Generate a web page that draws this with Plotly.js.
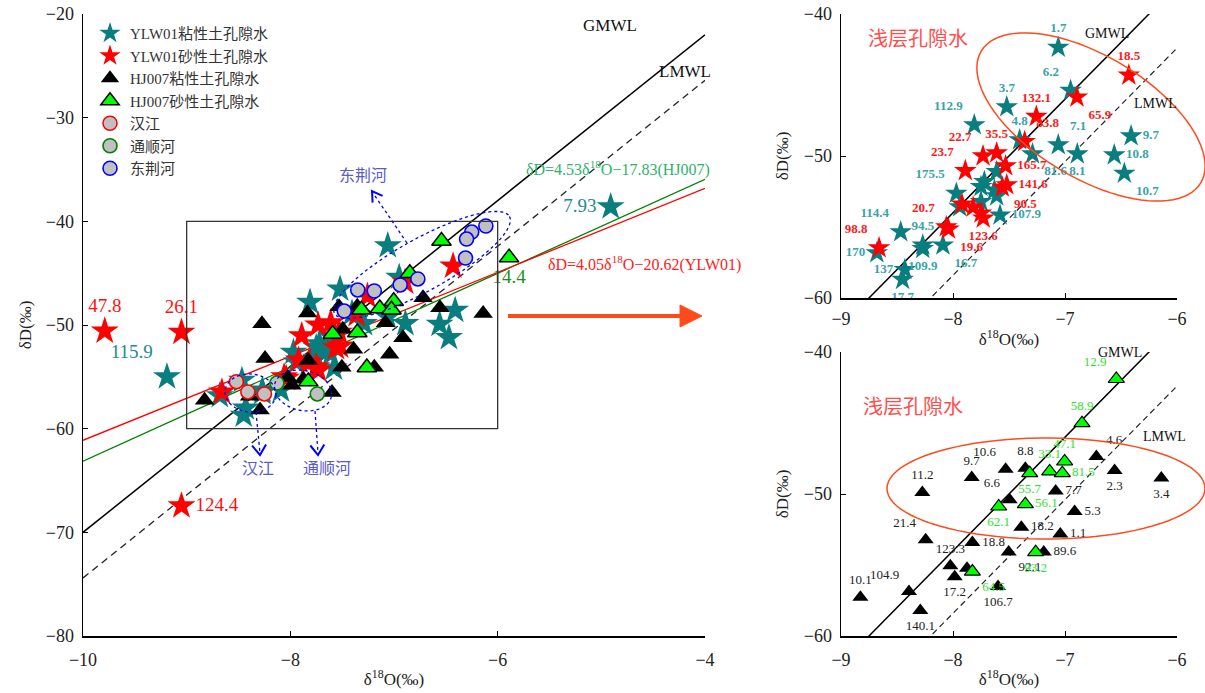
<!DOCTYPE html>
<html><head><meta charset="utf-8">
<script src="https://cdn.plot.ly/plotly-3.0.1.min.js"></script>
<style>body{margin:0;background:#fff}#c{width:1205px;height:693px}</style>
</head><body><div id="c"></div>
<script>
// ---------------- DATA ----------------
// YLW01 clay pore water (teal stars)
const ylwClayX = [-7.06,-6.95,-7.52,-7.81,-7.405,-7.06,-7.29,-6.89,-6.41,-6.56,-6.47,-7.61,-7.72,-7.75,-7.63,-7.61,-7.75,-7.97,-7.94,-7.58,-8.467,-8.27,-8.27,-8.09,-8.68,-8.43,-8.45,-9.19,-4.91];
const ylwClayY = [-42.35,-45.39,-46.54,-47.81,-48.87,-49.22,-49.86,-49.86,-48.59,-49.93,-51.22,-51.1,-51.81,-52.16,-52.4,-52.82,-53.22,-52.63,-53.58,-54.16,-55.34,-56.28,-56.52,-56.28,-56.82,-58.0,-58.7,-55.0,-38.6];
const ylwClayLab = ['1.7','6.2','3.7','112.9','4.8','7.1','81.6','8.1','9.7','10.8','10.7','','','','','','','175.5','','107.9','114.4','94.5','109.9','16.7','170','137','17.7','115.9','7.93'];
// YLW01 sandy pore water (red stars)
const ylwSandX = [-6.43,-6.893,-7.256,-7.36,-7.61,-7.732,-7.53,-7.89,-7.52,-7.56,-7.92,-7.82,-7.75,-7.73,-8.06,-8.04,-8.66,-9.79,-9.05,-9.05];
const ylwSandY = [-44.31,-45.86,-47.22,-48.99,-49.79,-50.0,-50.70,-51.04,-52.04,-52.19,-53.39,-53.6,-54.03,-54.38,-54.99,-55.15,-56.47,-50.58,-50.7,-67.45];
const ylwSandLab = ['18.5','65.9','132.1','83.8','35.5','22.7','165.7','23.7','141.6','90.5','','','','123.6','20.7','19.6','98.8','47.8','26.1','124.4'];
// HJ007 clay pore water (black triangles)
const hjClayX = [-8.827,-8.393,-8.292,-8.244,-8.274,-7.833,-7.530,-7.354,-7.494,-7.083,-6.720,-6.557,-6.140,-6.914,-7.390,-7.042,-7.827,-7.190,-7.503,-8.024,-7.875,-7.985,-7.598];
const hjClayY = [-57.27,-56.87,-58.21,-53.23,-49.89,-48.84,-48.25,-48.18,-50.41,-49.78,-47.36,-48.34,-48.88,-51.23,-52.34,-52.81,-53.42,-54.08,-54.08,-55.06,-55.23,-55.82,-56.52];
const hjClayLab = ['10.1','104.9','140.1','21.4','11.2','9.7','10.6','8.8','6.6','7.7','4.6','2.3','3.4','5.3','18.2','1.1','18.8','89.6','92.1','123.3','','17.2','106.7'];
// HJ007 sandy pore water (green triangles)
const hjSandX = [-6.542,-6.848,-7.003,-7.137,-7.024,-7.315,-7.354,-7.592,-7.262,-7.827,-5.89];
const hjSandY = [-41.90,-45.01,-47.71,-48.41,-48.53,-48.53,-50.72,-50.88,-54.10,-55.46,-43.5];
const hjSandLab = ['12.9','58.9','47.1','33.1','81.5','55.7','56.1','62.1','93.2','64.5','14.4'];
// Rivers
const hanX = [-8.52,-8.41,-8.25];
const hanY = [-55.47,-56.46,-56.65];
const tongX = [-8.13,-7.74];
const tongY = [-55.6,-56.65];
const dongX = [-6.114,-6.25,-6.30,-6.31,-6.77,-6.94,-7.19,-7.35,-7.48];
const dongY = [-40.45,-41.03,-41.71,-43.54,-45.56,-46.14,-46.72,-46.62,-48.65];
// Lines: [slope, intercept]
const GMWL = [8, 10];
const LMWL = [8, 5.6];
const fitHJ007 = [4.53, -17.83];
const fitYLW01 = [4.05, -20.62];
const lineX = [-10, -4];

// ---------------- STYLE / PLACEMENT ----------------
const ylwClayPos = ['top center','top left','top center','top left','top center','top right','bottom right','bottom center','middle right','middle right','bottom right','top center','top center','top center','top center','top center','top center','top left','top center','middle right','top left','top center','bottom center','bottom right','middle left','middle left','bottom center','top left','middle left'];
const ylwSandPos = ['top center','bottom right','top center','top right','top center','top left','middle right','top left','middle right','bottom right','top center','top center','top center','bottom center','top left','bottom right','top left','top center','top center','middle right'];
const hjClayPos = ['top center','top left','bottom center','top left','top center','top center','top left','top center','top left','middle right','top right','bottom center','bottom center','middle right','middle right','middle right','middle right','middle right','bottom right','top center','top center','bottom center','bottom center'];
const hjSandPos = ['top left','top center','top center','top center','middle right','bottom center','middle right','bottom center','bottom center','bottom right','bottom center'];

const W = 1205, H = 693;
const FONT = 'Liberation Serif, Times New Roman, Noto Sans CJK SC, serif';
const CJK = 'Liberation Serif, Noto Sans CJK SC, serif';
const P = (px, py) => [px / W, 1 - py / H];
const inBox = (x, y) => x >= -9 && x <= -6 && y >= -60 && y <= -40;
const lineY = c => lineX.map(x => c[0] * x + c[1]);

const TEAL = '#0a7e7e', RED = '#ff0000', GREEN = '#00ff00';

function mainText(xs, ys, labs) { return labs.map((l, i) => inBox(xs[i], ys[i]) ? '' : l); }
function boxText(xs, ys, labs) { return labs.map((l, i) => inBox(xs[i], ys[i]) ? l : ''); }
function boxX(xs, ys) { return xs.map((x, i) => inBox(x, ys[i]) ? x : null); }

const traces = [];
// main lines
traces.push({x: lineX, y: lineY(GMWL), mode: 'lines', line: {color: '#000', width: 1.5}, showlegend: false, hoverinfo: 'skip'});
traces.push({x: lineX, y: lineY(LMWL), mode: 'lines', line: {color: '#222', width: 1.3, dash: '7px,5px'}, showlegend: false, hoverinfo: 'skip'});
traces.push({x: lineX, y: lineY(fitHJ007), mode: 'lines', line: {color: '#008000', width: 1.3}, showlegend: false, hoverinfo: 'skip'});
traces.push({x: lineX, y: lineY(fitYLW01), mode: 'lines', line: {color: '#ff0000', width: 1.3}, showlegend: false, hoverinfo: 'skip'});

// main markers
const mainFont = (c) => ({family: FONT, size: 19, color: c});
traces.push({name: 'YLW01粘性土孔隙水', legendgroup: 'a', x: ylwClayX, y: ylwClayY, mode: 'markers+text',
  text: mainText(ylwClayX, ylwClayY, ylwClayLab), textposition: ylwClayPos, textfont: mainFont('#1c8c8c'),
  marker: {symbol: 'star', size: 21, color: TEAL, line: {width: 0}}});
traces.push({name: 'YLW01砂性土孔隙水', legendgroup: 'b', x: ylwSandX, y: ylwSandY, mode: 'markers+text',
  text: mainText(ylwSandX, ylwSandY, ylwSandLab), textposition: ylwSandPos, textfont: mainFont('#ff1010'),
  marker: {symbol: 'star', size: 21, color: RED, line: {width: 0}}});
traces.push({name: 'HJ007粘性土孔隙水', legendgroup: 'c', x: hjClayX, y: hjClayY, mode: 'markers',
  marker: {symbol: 'triangle-up', size: 17, color: '#000', line: {width: 0}}});
traces.push({name: 'HJ007砂性土孔隙水', legendgroup: 'd', x: hjSandX, y: hjSandY, mode: 'markers+text',
  text: mainText(hjSandX, hjSandY, hjSandLab), textposition: hjSandPos, textfont: mainFont('#1e901e'),
  marker: {symbol: 'triangle-up', size: 17, color: GREEN, line: {width: 1.5, color: '#000'}}});
traces.push({name: '汉江', legendgroup: 'e', x: hanX, y: hanY, mode: 'markers',
  marker: {symbol: 'circle', size: 14, color: '#c0c0c0', line: {width: 1.6, color: '#ff0000'}}});
traces.push({name: '通顺河', legendgroup: 'f', x: tongX, y: tongY, mode: 'markers',
  marker: {symbol: 'circle', size: 14, color: '#c0c0c0', line: {width: 1.6, color: '#008000'}}});
traces.push({name: '东荆河', legendgroup: 'g', x: dongX, y: dongY, mode: 'markers',
  marker: {symbol: 'circle', size: 14, color: '#c0c0c0', line: {width: 1.6, color: '#0000ff'}}});

// right plots (only the points inside the framed box)
['x2','x3'].forEach((xa, k) => {
  const ya = k === 0 ? 'y2' : 'y3';
  traces.push({x: lineX, y: lineY(GMWL), xaxis: xa, yaxis: ya, mode: 'lines', line: {color: '#000', width: 1.5}, showlegend: false, hoverinfo: 'skip'});
  traces.push({x: lineX, y: lineY(LMWL), xaxis: xa, yaxis: ya, mode: 'lines', line: {color: '#222', width: 1.2, dash: '6px,4px'}, showlegend: false, hoverinfo: 'skip'});
});
const smallFont = (c, bold) => ({family: FONT, size: 13, color: c, weight: bold ? 'bold' : 'normal'});
traces.push({x: boxX(ylwClayX, ylwClayY), y: ylwClayY, xaxis: 'x2', yaxis: 'y2', mode: 'markers+text', text: boxText(ylwClayX, ylwClayY, ylwClayLab), textposition: ylwClayPos,
  textfont: smallFont('#3aa3a8', true), marker: {symbol: 'star', size: 17, color: TEAL}, showlegend: false});
traces.push({x: boxX(ylwSandX, ylwSandY), y: ylwSandY, xaxis: 'x2', yaxis: 'y2', mode: 'markers+text', text: boxText(ylwSandX, ylwSandY, ylwSandLab), textposition: ylwSandPos,
  textfont: smallFont('#ff1a1a', true), marker: {symbol: 'star', size: 17, color: RED}, showlegend: false});
traces.push({x: boxX(hjClayX, hjClayY), y: hjClayY, xaxis: 'x3', yaxis: 'y3', mode: 'markers+text', text: boxText(hjClayX, hjClayY, hjClayLab), textposition: hjClayPos,
  textfont: smallFont('#222', false), marker: {symbol: 'triangle-up', size: 14, color: '#000'}, showlegend: false});
traces.push({x: boxX(hjSandX, hjSandY), y: hjSandY, xaxis: 'x3', yaxis: 'y3', mode: 'markers+text', text: boxText(hjSandX, hjSandY, hjSandLab), textposition: hjSandPos,
  textfont: smallFont('#30e030', false), marker: {symbol: 'triangle-up', size: 14, color: GREEN, line: {width: 1.2, color: '#000'}}, showlegend: false});

// ---------------- DECORATIONS ----------------
function ell(cx, cy, a, b, deg) {
  const th = deg * Math.PI / 180; let d = '';
  for (let i = 0; i <= 90; i++) {
    const t = i / 90 * 2 * Math.PI;
    const x = cx + a * Math.cos(t) * Math.cos(th) + b * Math.sin(t) * Math.sin(th);
    const y = cy - a * Math.cos(t) * Math.sin(th) + b * Math.sin(t) * Math.cos(th);
    const p = P(x, y); d += (i ? 'L' : 'M') + p[0].toFixed(5) + ',' + p[1].toFixed(5);
  }
  return d + 'Z';
}
function pathOf(pts, close) { return pts.map((q, i) => { const p = P(q[0], q[1]); return (i ? 'L' : 'M') + p[0].toFixed(5) + ',' + p[1].toFixed(5); }).join('') + (close ? 'Z' : ''); }
function lineShape(x0, y0, x1, y1, color, width, dash) {
  const a = P(x0, y0), b = P(x1, y1);
  return {type: 'line', xref: 'paper', yref: 'paper', x0: a[0], y0: a[1], x1: b[0], y1: b[1], line: {color, width, dash: dash || 'solid'}};
}
function vHead(sx, sy, tx, ty, len, half, color) {
  const dx = tx - sx, dy = ty - sy, L = Math.hypot(dx, dy), ux = dx / L, uy = dy / L;
  const bx = tx - len * ux, by = ty - len * uy;
  return {type: 'path', xref: 'paper', yref: 'paper', path: pathOf([[bx - half * uy, by + half * ux], [tx, ty], [bx + half * uy, by - half * ux]], false), line: {color, width: 2}};
}
const BLUE = '#0000ff', ORANGE = '#ff4a1c';
const shapes = [
  {type: 'rect', xref: 'x', yref: 'y', x0: -9, x1: -6, y0: -60, y1: -40, line: {color: '#333', width: 1.3}},
  {type: 'path', xref: 'paper', yref: 'paper', path: ell(422, 265, 100, 26, 29), line: {color: BLUE, width: 1.3, dash: 'dot'}},
  {type: 'path', xref: 'paper', yref: 'paper', path: ell(250.5, 393, 25.5, 19, -5), line: {color: BLUE, width: 1.3, dash: 'dot'}},
  {type: 'path', xref: 'paper', yref: 'paper', path: ell(303, 390.5, 29, 20, -12), line: {color: BLUE, width: 1.3, dash: 'dot'}},
  lineShape(256, 412, 260, 453, BLUE, 1.3, 'dot'),
  vHead(256, 412, 260, 455, 10, 7, BLUE),
  lineShape(315, 411, 318, 453, BLUE, 1.3, 'dot'),
  vHead(315, 411, 318, 455, 10, 7, BLUE),
  lineShape(407, 243, 373, 193, BLUE, 1.3, 'dot'),
  vHead(407, 243, 372, 191, 10, 6, BLUE),
  lineShape(508, 316, 684, 316, ORANGE, 4),
  {type: 'path', xref: 'paper', yref: 'paper', path: pathOf([[680, 305], [702, 316], [680, 327]], true), fillcolor: ORANGE, line: {color: ORANGE, width: 1}},
  {type: 'path', xref: 'paper', yref: 'paper', path: ell(1091, 117, 128, 61, -31), line: {color: ORANGE, width: 1.5}},
  {type: 'path', xref: 'paper', yref: 'paper', path: ell(1046, 488.5, 159, 50.5, 0), line: {color: ORANGE, width: 1.5}}
];
function txt(s, px, py, size, color, extra) {
  const p = P(px, py);
  return Object.assign({text: s, xref: 'paper', yref: 'paper', x: p[0], y: p[1], showarrow: false, xanchor: 'center', yanchor: 'middle', font: {family: CJK, size, color}}, extra || {});
}
const annotations = [
  txt('GMWL', 610, 26, 17, '#111'),
  txt('LMWL', 685, 71, 17, '#111'),
  txt('δD=4.53δ<sup>18</sup>O−17.83(HJ007)', 618, 168, 16, '#2db36b'),
  txt('δD=4.05δ<sup>18</sup>O−20.62(YLW01)', 644, 263, 16, '#ff2020'),
  txt('东荆河', 363, 175, 16, '#5b5bc8'),
  txt('汉江', 258, 468, 16, '#5b5bc8'),
  txt('通顺河', 327, 468, 16, '#5b5bc8'),
  txt('浅层孔隙水', 918, 39, 20, '#ff4d4d'),
  txt('浅层孔隙水', 913, 407, 20, '#ff4d4d'),
  txt('GMWL', 1107, 34, 14, '#111'),
  txt('LMWL', 1155, 103, 14, '#111'),
  txt('GMWL', 1120, 352, 14, '#111'),
  txt('LMWL', 1164, 436, 14, '#111')
];

const tickFont = {family: FONT, size: 18, color: '#222'};
const titleFont = {family: FONT, size: 17, color: '#222'};
function ax(extra) {
  return Object.assign({showline: true, linecolor: '#000', linewidth: 1.5, ticks: 'inside', ticklen: 5, tickwidth: 1, tickcolor: '#000',
    showgrid: false, zeroline: false, tickfont: tickFont, mirror: false, fixedrange: true}, extra);
}
const layout = {
  width: W, height: H, margin: {l: 0, r: 0, t: 0, b: 0}, paper_bgcolor: '#fff', plot_bgcolor: '#fff',
  font: {family: FONT, color: '#222'},
  xaxis: ax({domain: [83 / W, 705 / W], range: [-10, -4], tickvals: [-10, -8, -6, -4], anchor: 'y', ticklabelstandoff: 7,
    title: {text: 'δ<sup>18</sup>O(‰)', font: titleFont, standoff: 4}}),
  yaxis: ax({domain: [1 - 636 / H, 1 - 14 / H], range: [-80, -20], dtick: 10, anchor: 'x', ticklabelstandoff: 4,
    title: {text: 'δD(‰)', font: titleFont, standoff: 10}}),
  xaxis2: ax({domain: [841 / W, 1177 / W], range: [-9, -6], dtick: 1, anchor: 'y2', ticklabelstandoff: 4,
    title: {text: 'δ<sup>18</sup>O(‰)', font: titleFont, standoff: 5}}),
  yaxis2: ax({domain: [1 - 298 / H, 1 - 14 / H], range: [-60, -40], dtick: 10, anchor: 'x2', ticklabelstandoff: 4,
    title: {text: 'δD(‰)', font: titleFont, standoff: 11}}),
  xaxis3: ax({domain: [841 / W, 1177 / W], range: [-9, -6], dtick: 1, anchor: 'y3', ticklabelstandoff: 7,
    title: {text: 'δ<sup>18</sup>O(‰)', font: titleFont, standoff: 4}}),
  yaxis3: ax({domain: [1 - 636 / H, 1 - 352 / H], range: [-60, -40], dtick: 10, anchor: 'x3', ticklabelstandoff: 4,
    title: {text: 'δD(‰)', font: titleFont, standoff: 11}}),
  showlegend: true,
  legend: {x: 90 / W, y: 1 - 17 / H, xanchor: 'left', yanchor: 'top', bgcolor: 'rgba(0,0,0,0)', borderwidth: 0,
    font: {family: CJK, size: 15, color: '#333'}, tracegroupgap: 0, itemsizing: 'trace'},
  shapes, annotations
};
Plotly.newPlot('c', traces, layout, {displayModeBar: false, staticPlot: true});
</script></body></html>
